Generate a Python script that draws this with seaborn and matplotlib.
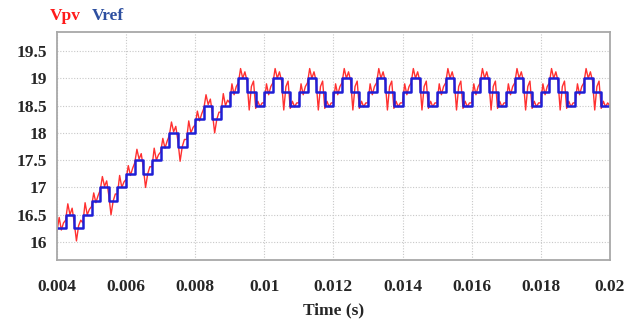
import numpy as np
import pandas as pd
import matplotlib
matplotlib.use("Agg")
import matplotlib.pyplot as plt
import seaborn as sns

# ---- data ----
x_ticks = [0.004, 0.006, 0.008, 0.01, 0.012, 0.014, 0.016, 0.018, 0.02]
x_tick_labels = ["0.004", "0.006", "0.008", "0.01", "0.012", "0.014", "0.016", "0.018", "0.02"]
y_ticks = [16, 16.5, 17, 17.5, 18, 18.5, 19, 19.5]
y_tick_labels = ["16", "16.5", "17", "17.5", "18", "18.5", "19", "19.5"]

# Vref: one level per 0.25 ms step, from 0.004 s to 0.02 s (last value repeats to the end)
vref_levels = [
    16.25, 16.5, 16.25, 16.5,
    16.75, 17.0, 16.75, 17.0,
    17.25, 17.5, 17.25, 17.5,
    17.75, 18.0, 17.75, 18.0,
    18.25, 18.5, 18.25, 18.5,
    18.75, 19.0, 18.75, 18.5,
    18.75, 19.0, 18.75, 18.5,
    18.75, 19.0, 18.75, 18.5,
    18.75, 19.0, 18.75, 18.5,
    18.75, 19.0, 18.75, 18.5,
    18.75, 19.0, 18.75, 18.5,
    18.75, 19.0, 18.75, 18.5,
    18.75, 19.0, 18.75, 18.5,
    18.75, 19.0, 18.75, 18.5,
    18.75, 19.0, 18.75, 18.5,
    18.75, 19.0, 18.75, 18.5,
    18.5,
]

# Vpv: sampled every 0.0625 ms from 0.004 s to 0.02 s
vpv_values = [
    16.20, 16.45, 16.22, 16.35,  16.40, 16.70, 16.50, 16.62,
    16.35, 16.02, 16.30, 16.40,  16.35, 16.72, 16.50, 16.60,
    16.65, 16.90, 16.72, 16.85,  16.95, 17.20, 17.02, 17.12,
    16.85, 16.50, 16.75, 16.88,  16.88, 17.22, 17.00, 17.10,
    17.15, 17.40, 17.22, 17.35,  17.45, 17.70, 17.52, 17.62,
    17.35, 17.00, 17.25, 17.38,  17.38, 17.72, 17.50, 17.60,
    17.65, 17.90, 17.72, 17.85,  17.95, 18.20, 18.02, 18.12,
    17.85, 17.48, 17.75, 17.88,  17.88, 18.22, 18.00, 18.10,
    18.15, 18.40, 18.22, 18.35,  18.45, 18.70, 18.52, 18.62,
    18.35, 18.00, 18.25, 18.38,  18.38, 18.72, 18.50, 18.60,
    18.55, 18.90, 18.70, 18.85,  18.92, 19.18, 19.00, 19.12,
    18.95, 18.42, 18.85, 18.95,  18.45, 18.58, 18.48, 18.55,
    18.55, 18.90, 18.70, 18.85,  18.92, 19.18, 19.00, 19.12,
    18.95, 18.42, 18.85, 18.95,  18.45, 18.58, 18.48, 18.55,
    18.55, 18.90, 18.70, 18.85,  18.92, 19.18, 19.00, 19.12,
    18.95, 18.42, 18.85, 18.95,  18.45, 18.58, 18.48, 18.55,
    18.55, 18.90, 18.70, 18.85,  18.92, 19.18, 19.00, 19.12,
    18.95, 18.42, 18.85, 18.95,  18.45, 18.58, 18.48, 18.55,
    18.55, 18.90, 18.70, 18.85,  18.92, 19.18, 19.00, 19.12,
    18.95, 18.42, 18.85, 18.95,  18.45, 18.58, 18.48, 18.55,
    18.55, 18.90, 18.70, 18.85,  18.92, 19.18, 19.00, 19.12,
    18.95, 18.42, 18.85, 18.95,  18.45, 18.58, 18.48, 18.55,
    18.55, 18.90, 18.70, 18.85,  18.92, 19.18, 19.00, 19.12,
    18.95, 18.42, 18.85, 18.95,  18.45, 18.58, 18.48, 18.55,
    18.55, 18.90, 18.70, 18.85,  18.92, 19.18, 19.00, 19.12,
    18.95, 18.42, 18.85, 18.95,  18.45, 18.58, 18.48, 18.55,
    18.55, 18.90, 18.70, 18.85,  18.92, 19.18, 19.00, 19.12,
    18.95, 18.42, 18.85, 18.95,  18.45, 18.58, 18.48, 18.55,
    18.55, 18.90, 18.70, 18.85,  18.92, 19.18, 19.00, 19.12,
    18.95, 18.42, 18.85, 18.95,  18.45, 18.58, 18.48, 18.55,
    18.55, 18.90, 18.70, 18.85,  18.92, 19.18, 19.00, 19.12,
    18.95, 18.42, 18.85, 18.95,  18.45, 18.58, 18.48, 18.55,
    18.50,
]

t_ref = np.linspace(0.004, 0.02, len(vref_levels))
t_pv = np.linspace(0.004, 0.02, len(vpv_values))
df_ref = pd.DataFrame({"t": t_ref, "v": vref_levels})
df_pv = pd.DataFrame({"t": t_pv, "v": vpv_values})

# ---- style ----
sns.set_theme(style="white")
plt.rcParams["font.family"] = ["Liberation Serif", "DejaVu Serif"]

fig, ax = plt.subplots(figsize=(6.3, 3.2), dpi=100)
fig.subplots_adjust(left=0.0905, right=0.968, top=0.9, bottom=0.1875)

sns.lineplot(data=df_pv, x="t", y="v", ax=ax, color="#ff3030", linewidth=1.0,
             solid_joinstyle="round")
sns.lineplot(data=df_ref, x="t", y="v", ax=ax, color="#1f1fd6", linewidth=1.8,
             drawstyle="steps-post")

ax.set_xlim(0.004, 0.02)
ax.set_ylim(15.67, 19.85)
ax.set_xticks(x_ticks)
ax.set_xticklabels(x_tick_labels)
ax.set_yticks(y_ticks)
ax.set_yticklabels(y_tick_labels)

ax.grid(True, color="#c8c8c8", linestyle=(0, (1, 1.5)), linewidth=0.8)
ax.set_axisbelow(True)
for s in ax.spines.values():
    s.set_color("#a8a8a8")
    s.set_linewidth(1.3)

ax.tick_params(axis="x", length=0, pad=14, labelsize=12.5)
ax.tick_params(axis="y", length=0, pad=7, labelsize=12.5)
for lab in ax.get_xticklabels() + ax.get_yticklabels():
    lab.set_fontweight("bold")

ax.set_xlabel("Time (s)", fontsize=12.5, fontweight="bold", labelpad=5)
ax.set_ylabel("")

fig.text(50 / 630, 1 - 16 / 320, "Vpv", color="#ff1a1a", fontsize=12.5,
         fontweight="bold", va="center", ha="left")
fig.text(92 / 630, 1 - 16 / 320, "Vref", color="#2d4fa0", fontsize=12.5,
         fontweight="bold", va="center", ha="left")

fig.savefig("out.png", dpi=100)
